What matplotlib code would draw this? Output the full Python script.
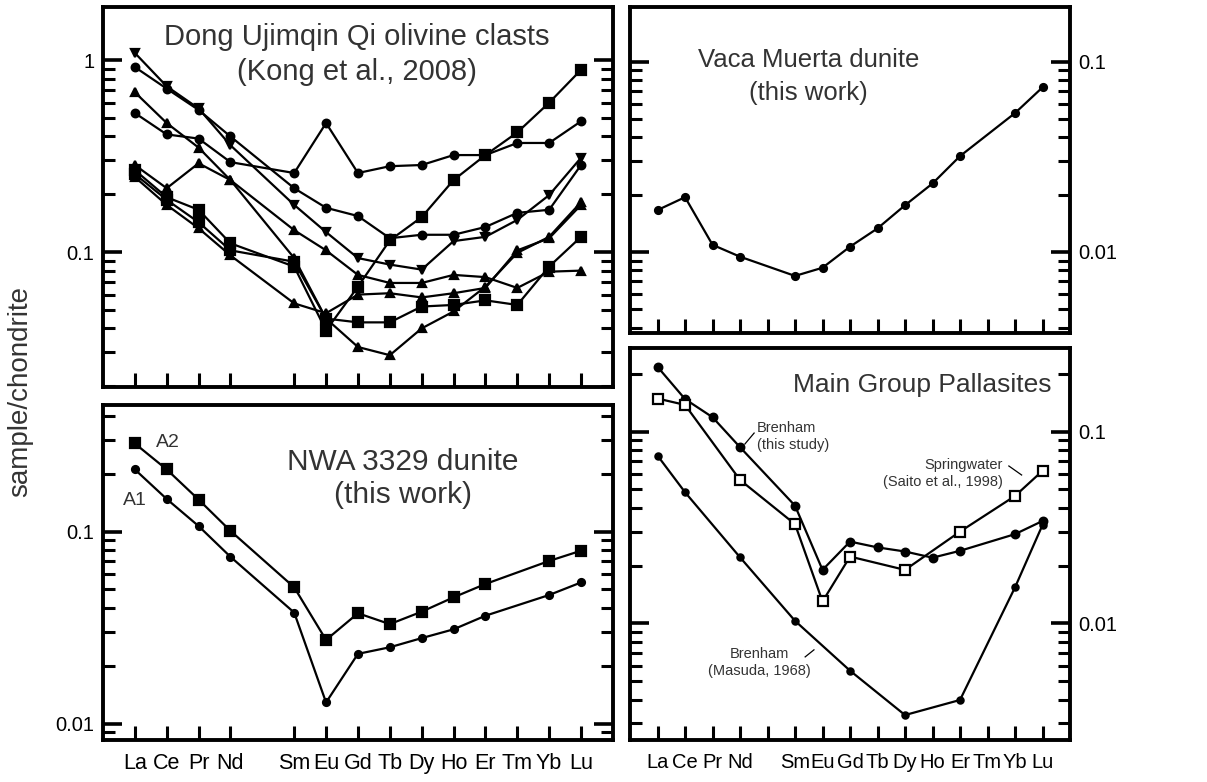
import numpy as np
import matplotlib.pyplot as plt
from matplotlib.ticker import FixedLocator, LogLocator, NullFormatter, FuncFormatter

plt.rcParams["font.family"] = ["Liberation Sans", "DejaVu Sans"]

nan = np.nan

# REE order, Pm has no data
elements = ["La", "Ce", "Pr", "Nd", "Pm", "Sm", "Eu", "Gd", "Tb", "Dy", "Ho", "Er", "Tm", "Yb", "Lu"]
element_labels = ["La", "Ce", "Pr", "Nd", "", "Sm", "Eu", "Gd", "Tb", "Dy", "Ho", "Er", "Tm", "Yb", "Lu"]

# Dong Ujimqin Qi olivine clasts (Kong et al., 2008)
dong_a = [1.09, 0.73, 0.56, 0.36, nan, 0.176, 0.127, 0.093, 0.086, 0.081, 0.114, 0.120, 0.147, 0.198, 0.31]
dong_b = [0.92, 0.71, 0.55, 0.40, nan, 0.215, 0.170, 0.154, 0.118, 0.123, 0.123, 0.135, 0.160, 0.166, 0.284]
dong_c = [0.68, 0.47, 0.35, 0.237, nan, 0.130, 0.102, 0.076, 0.069, 0.069, 0.076, 0.074, 0.065, 0.079, 0.080]
dong_d = [0.53, 0.41, 0.39, 0.294, nan, 0.258, 0.47, 0.258, 0.280, 0.284, 0.32, 0.32, 0.37, 0.37, 0.48]
dong_e = [0.284, 0.215, 0.29, 0.237, nan, 0.093, 0.045, 0.032, 0.029, 0.040, 0.049, 0.066, 0.099, 0.120, 0.182]
dong_f = [0.267, 0.193, 0.166, 0.111, nan, 0.084, 0.039, 0.066, 0.115, 0.152, 0.237, 0.32, 0.42, 0.60, 0.89]
dong_g = [0.255, 0.187, 0.143, 0.102, nan, 0.089, 0.045, 0.043, 0.043, 0.052, 0.053, 0.056, 0.053, 0.084, 0.120]
dong_h = [0.246, 0.176, 0.133, 0.096, nan, 0.054, 0.048, 0.060, 0.061, 0.058, 0.061, 0.065, 0.102, 0.118, 0.176]
dong_series = [dong_a, dong_b, dong_c, dong_d, dong_e, dong_f, dong_g, dong_h]
dong_markers = ["v", "o", "^", "o", "^", "s", "s", "^"]

# NWA 3329 dunite
nwa_a2 = [0.288, 0.211, 0.147, 0.101, nan, 0.0513, 0.0273, 0.0376, 0.0330, 0.0383, 0.0455, 0.0534, nan, 0.0704, 0.0796]
nwa_a1 = [0.211, 0.148, 0.107, 0.074, nan, 0.0379, 0.0129, 0.0231, 0.0250, 0.0279, 0.0310, 0.0365, nan, 0.0468, 0.0544]

# Vaca Muerta dunite
vaca = [0.0166, 0.0194, 0.0109, 0.00944, nan, 0.00748, 0.00826, 0.01066, 0.0133, 0.0176, 0.0229, 0.0319, nan, 0.0537, 0.0733]

# Main Group Pallasites
brenham_this = [0.218, 0.148, 0.119, 0.083, nan, 0.0411, 0.0190, 0.0267, 0.0249, 0.0237, 0.0220, 0.0239, nan, 0.0292, 0.0342]
springwater = [0.149, 0.138, nan, 0.056, nan, 0.0329, 0.0130, 0.0223, nan, 0.0190, nan, 0.0301, nan, 0.0462, 0.0625]
brenham_masuda = [0.075, 0.0483, nan, 0.0221, nan, 0.0103, nan, 0.00566, nan, 0.00332, nan, 0.00398, nan, 0.0154, 0.0326]

TITLE_COLOR = "#333333"


def plot_series(ax, values, marker, size, filled=True):
    """Draws one REE pattern, skipping missing elements"""
    y = np.array(values, dtype=float)
    x = np.arange(len(y))
    ok = ~np.isnan(y)
    ax.plot(x[ok], y[ok], color="black", lw=1.6, marker=marker, ms=size,
            mfc="black" if filled else "white", mec="black", mew=1.6, zorder=3)


def style_axis(ax, ylim, label_side, pm_tick, show_xlabels, xlabel_size=15):
    """Log y axis with inward ticks, REE x axis"""
    ax.set_yscale("log")
    ax.set_xlim(-1, 15)
    ax.set_ylim(*ylim)

    idx = [i for i in range(len(elements)) if pm_tick or elements[i] != "Pm"]
    ax.set_xticks(idx)
    if show_xlabels:
        ax.set_xticklabels([element_labels[i] for i in idx], fontsize=xlabel_size)
    else:
        ax.set_xticklabels([])

    ax.yaxis.set_major_locator(FixedLocator([0.001, 0.01, 0.1, 1, 10]))
    ax.yaxis.set_minor_locator(LogLocator(base=10, subs=np.arange(2, 10)))
    ax.yaxis.set_minor_formatter(NullFormatter())
    ax.yaxis.set_major_formatter(FuncFormatter(lambda v, p: f"{v:g}"))

    ax.tick_params(axis="y", which="both", direction="in", left=True, right=True,
                   labelleft=(label_side == "left"), labelright=(label_side == "right"),
                   labelsize=14.5, pad=6)
    ax.tick_params(axis="y", which="major", length=14, width=2.6)
    ax.tick_params(axis="y", which="minor", length=8.5, width=2.2)
    ax.tick_params(axis="x", which="both", direction="in", length=10, width=2.2,
                   top=False, pad=9)
    ax.minorticks_on()
    ax.xaxis.set_minor_locator(FixedLocator([]))
    for spine in ax.spines.values():
        spine.set_linewidth(2.8)


fig = plt.figure(figsize=(12.07, 7.82), dpi=100)

ax_tl = fig.add_axes([0.0853, 0.5051, 0.4225, 0.4859])
ax_bl = fig.add_axes([0.0853, 0.0537, 0.4225, 0.4284])
ax_tr = fig.add_axes([0.5220, 0.5742, 0.3645, 0.4169])
ax_br = fig.add_axes([0.5220, 0.0537, 0.3645, 0.5013])

# top left: Dong Ujimqin Qi
for values, marker in zip(dong_series, dong_markers):
    size = 6.5 if marker == "s" else (6.0 if marker in "v^" else 5.5)
    plot_series(ax_tl, values, marker, size)
style_axis(ax_tl, (0.0198, 1.89), "left", False, False)
ax_tl.text(0.498, 0.921, "Dong Ujimqin Qi olivine clasts", transform=ax_tl.transAxes,
           ha="center", va="center", fontsize=21, color=TITLE_COLOR)
ax_tl.text(0.498, 0.829, "(Kong et al., 2008)", transform=ax_tl.transAxes,
           ha="center", va="center", fontsize=21, color=TITLE_COLOR)

# bottom left: NWA 3329
plot_series(ax_bl, nwa_a2, "s", 7.0)
plot_series(ax_bl, nwa_a1, "o", 5.0)
style_axis(ax_bl, (0.00822, 0.457), "left", False, True, xlabel_size=15.5)
ax_bl.text(0.588, 0.830, "NWA 3329 dunite", transform=ax_bl.transAxes,
           ha="center", va="center", fontsize=21.5, color=TITLE_COLOR)
ax_bl.text(0.588, 0.731, "(this work)", transform=ax_bl.transAxes,
           ha="center", va="center", fontsize=21.5, color=TITLE_COLOR)
ax_bl.text(0.127, 0.887, "A2", transform=ax_bl.transAxes, ha="center", va="center",
           fontsize=14, color=TITLE_COLOR)
ax_bl.text(0.063, 0.716, "A1", transform=ax_bl.transAxes, ha="center", va="center",
           fontsize=14, color=TITLE_COLOR)

# top right: Vaca Muerta
plot_series(ax_tr, vaca, "o", 5.0)
style_axis(ax_tr, (0.00375, 0.194), "right", True, False)
ax_tr.text(0.405, 0.837, "Vaca Muerta dunite", transform=ax_tr.transAxes,
           ha="center", va="center", fontsize=18.5, color=TITLE_COLOR)
ax_tr.text(0.405, 0.736, "(this work)", transform=ax_tr.transAxes,
           ha="center", va="center", fontsize=18.5, color=TITLE_COLOR)

# bottom right: Main Group Pallasites
plot_series(ax_br, brenham_this, "o", 5.5)
plot_series(ax_br, springwater, "s", 7.0, filled=False)
plot_series(ax_br, brenham_masuda, "o", 4.5)
style_axis(ax_br, (0.00246, 0.2735), "right", True, True, xlabel_size=14.5)
ax_br.text(0.664, 0.906, "Main Group Pallasites", transform=ax_br.transAxes,
           ha="center", va="center", fontsize=19, color=TITLE_COLOR)

ax_br.text(0.289, 0.775, "Brenham\n(this study)", transform=ax_br.transAxes,
           ha="left", va="center", fontsize=10.5, linespacing=1.25, color=TITLE_COLOR)
ax_br.plot([0.261, 0.282], [0.755, 0.783], transform=ax_br.transAxes, color="black", lw=0.9)

ax_br.text(0.848, 0.680, "Springwater\n(Saito et al., 1998)", transform=ax_br.transAxes,
           ha="right", va="center", fontsize=10.5, linespacing=1.25, color=TITLE_COLOR)
ax_br.plot([0.861, 0.890], [0.699, 0.676], transform=ax_br.transAxes, color="black", lw=0.9)

ax_br.text(0.295, 0.197, "Brenham\n(Masuda, 1968)", transform=ax_br.transAxes,
           ha="center", va="center", fontsize=10.5, linespacing=1.25, color=TITLE_COLOR)
ax_br.plot([0.398, 0.418], [0.212, 0.230], transform=ax_br.transAxes, color="black", lw=0.9)

fig.text(0.0166, 0.499, "sample/chondrite", rotation=90, ha="center", va="center",
         fontsize=20, color=TITLE_COLOR)

fig.savefig("out.png", dpi=100)
plt.close(fig)
